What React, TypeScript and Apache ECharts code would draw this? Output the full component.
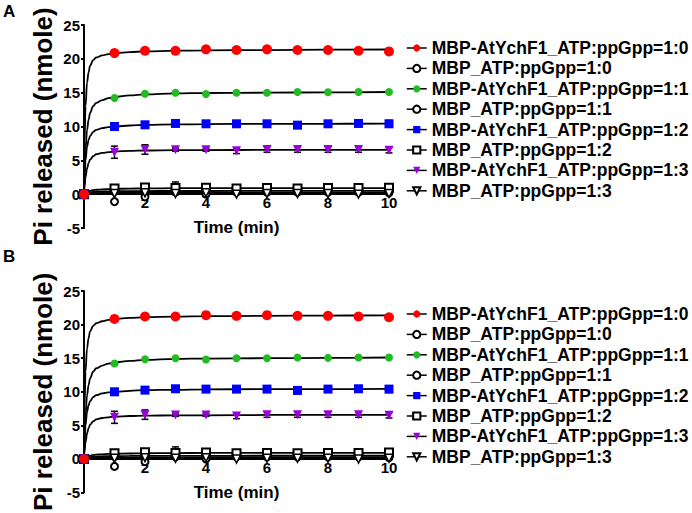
import React, { useEffect, useRef } from "react";
import * as echarts from "echarts";

// ---- Data ----
const timeMin = [0, 1, 2, 3, 4, 5, 6, 7, 8, 9, 10];
const ychf1_1_0 = [0, 20.85, 21.2, 21.2, 21.4, 21.3, 21.4, 21.3, 21.3, 21.2, 21.1];
const mbp_1_0 = [0, -1.1, -0.4, 0.3, 0.0, 0.3, 0.3, 0.3, 0.3, 0.3, 0.2];
const ychf1_1_1 = [0, 14.2, 14.85, 15.0, 14.8, 15.0, 15.0, 15.1, 15.05, 15.1, 15.1];
const mbp_1_1 = [0, 0.3, 0.5, 0.4, 0.5, 0.4, 0.5, 0.5, 0.4, 0.5, 0.5];
const ychf1_1_2 = [0, 10.0, 10.25, 10.45, 10.4, 10.4, 10.4, 10.2, 10.4, 10.45, 10.4];
const mbp_1_2 = [0, 0.85, 1.0, 0.9, 0.95, 0.85, 0.9, 0.85, 0.9, 0.9, 0.95];
const ychf1_1_3 = [0, 6.2, 6.6, 6.55, 6.55, 6.4, 6.6, 6.6, 6.6, 6.6, 6.5];
const mbp_1_3 = [0, 0.1, 0.2, 0.1, 0.2, 0.0, 0.1, 0.1, 0.1, 0.0, 0.1];

// error bars (± SD)
const ychf1_1_2_err = [0, 0, 0, 0, 0, 0, 0, 0, 0.4, 0.3, 0.5];
const ychf1_1_3_err = [0, 0.9, 0.7, 0.2, 0.2, 0.4, 0.4, 0.4, 0.4, 0.4, 0.4];
const mbp_1_2_err = [0, 0.3, 0.3, 0.9, 0.3, 0.3, 0.3, 0.3, 0.3, 0.3, 0.3];

// fitted curves
const fitTime = [0, 0.02, 0.05, 0.1, 0.15, 0.2, 0.3, 0.4, 0.6, 0.8, 1, 1.5, 2, 3, 4, 6, 8, 10];
const fit_ychf1_1_0 = [0, 8, 13, 16.5, 18.0, 19.0, 19.8, 20.2, 20.5, 20.7, 20.85, 21.0, 21.1, 21.2, 21.25, 21.3, 21.35, 21.38];
const fit_mbp_1_0 = [0, 0.02, 0.05, 0.08, 0.1, 0.12, 0.14, 0.15, 0.17, 0.18, 0.19, 0.2, 0.2, 0.21, 0.22, 0.22, 0.22, 0.22];
const fit_ychf1_1_1 = [0, 3, 6.5, 9.5, 11, 12, 13, 13.5, 13.9, 14.2, 14.35, 14.6, 14.75, 14.9, 14.95, 15.0, 15.05, 15.1];
const fit_mbp_1_1 = [0, 0.05, 0.1, 0.18, 0.24, 0.28, 0.33, 0.36, 0.4, 0.42, 0.43, 0.45, 0.46, 0.47, 0.47, 0.48, 0.48, 0.48];
const fit_ychf1_1_2 = [0, 2.5, 5, 7, 8, 8.6, 9.2, 9.5, 9.75, 9.9, 10.0, 10.15, 10.25, 10.3, 10.35, 10.4, 10.4, 10.42];
const fit_mbp_1_2 = [0, 0.1, 0.2, 0.35, 0.45, 0.5, 0.6, 0.65, 0.7, 0.75, 0.78, 0.82, 0.85, 0.88, 0.9, 0.9, 0.9, 0.9];
const fit_ychf1_1_3 = [0, 1.2, 2.5, 3.8, 4.6, 5.1, 5.6, 5.9, 6.1, 6.2, 6.3, 6.4, 6.45, 6.5, 6.5, 6.55, 6.55, 6.55];
const fit_mbp_1_3 = [0, 0.01, 0.02, 0.04, 0.05, 0.06, 0.07, 0.08, 0.09, 0.09, 0.1, 0.1, 0.1, 0.1, 0.1, 0.1, 0.1, 0.1];

const yTicks = { min: -5, max: 25, interval: 5 };
const xTicks = { min: 0, max: 10, interval: 2 };
const panelLabels = ["A", "B"];

const FONT = 'Arial, "Liberation Sans", Helvetica, sans-serif';
const TRI_DOWN = "path://M0,0 L10,0 L5,9 Z";

// kind: "fill" = filled coloured symbol, "empty" = ECharts empty symbol, "open" = white-filled path with black border
const conditions = [
  { name: "MBP-AtYchF1_ATP:ppGpp=1:0", data: ychf1_1_0, fit: fit_ychf1_1_0, color: "#ff0000", symbol: "circle", size: 10, kind: "fill", err: null as number[] | null, z: 8 },
  { name: "MBP_ATP:ppGpp=1:0", data: mbp_1_0, fit: fit_mbp_1_0, color: "#000000", symbol: "emptyCircle", size: 7, kind: "empty", err: null, z: 4 },
  { name: "MBP-AtYchF1_ATP:ppGpp=1:1", data: ychf1_1_1, fit: fit_ychf1_1_1, color: "#22bb22", symbol: "circle", size: 8, kind: "fill", err: null, z: 7 },
  { name: "MBP_ATP:ppGpp=1:1", data: mbp_1_1, fit: fit_mbp_1_1, color: "#000000", symbol: "emptyCircle", size: 6, kind: "empty", err: null, z: 4 },
  { name: "MBP-AtYchF1_ATP:ppGpp=1:2", data: ychf1_1_2, fit: fit_ychf1_1_2, color: "#0000ff", symbol: "rect", size: 9, kind: "fill", err: ychf1_1_2_err, z: 6 },
  { name: "MBP_ATP:ppGpp=1:2", data: mbp_1_2, fit: fit_mbp_1_2, color: "#000000", symbol: "emptyRect", size: 8, kind: "empty", err: mbp_1_2_err, z: 4 },
  { name: "MBP-AtYchF1_ATP:ppGpp=1:3", data: ychf1_1_3, fit: fit_ychf1_1_3, color: "#9900dd", symbol: TRI_DOWN, size: 9, kind: "fill", err: ychf1_1_3_err, z: 5 },
  { name: "MBP_ATP:ppGpp=1:3", data: mbp_1_3, fit: fit_mbp_1_3, color: "#000000", symbol: TRI_DOWN, size: 8, kind: "open", err: null, z: 4 },
];

const GRID_TOPS = [25, 291];
const GRID_H = 203;
// the time axis crosses the value axis at y = 0
const ZERO_OFFSET = -GRID_H * (0 - yTicks.min) / (yTicks.max - yTicks.min);

export default function App() {
  const ref = useRef<HTMLDivElement>(null);
  useEffect(() => {
    if (!ref.current) return;
    const chart = echarts.init(ref.current, null, { renderer: "svg" });

    const grids: any[] = [];
    const xAxes: any[] = [];
    const yAxes: any[] = [];
    const legends: any[] = [];
    const series: any[] = [];
    const graphics: any[] = [];

    GRID_TOPS.forEach((top, p) => {
      grids.push({ left: 84, top, width: 305, height: GRID_H, containLabel: false });
      xAxes.push({
        type: "value",
        gridIndex: p,
        position: "bottom",
        offset: ZERO_OFFSET,
        min: xTicks.min,
        max: xTicks.max,
        interval: xTicks.interval,
        name: "Time (min)",
        nameLocation: "middle",
        nameGap: 25,
        nameTextStyle: { fontFamily: FONT, fontWeight: "bold", fontSize: 17, color: "#000" },
        axisLine: { onZero: false, lineStyle: { color: "#000", width: 2 } },
        axisTick: { show: true, length: 3, lineStyle: { color: "#000", width: 2 } },
        axisLabel: {
          margin: 1,
          fontFamily: FONT,
          fontWeight: "bold",
          fontSize: 15,
          color: "#000",
          formatter: (v: number) => (v === 0 ? "" : String(v)),
        },
        splitLine: { show: false },
      });
      yAxes.push({
        type: "value",
        gridIndex: p,
        min: yTicks.min,
        max: yTicks.max,
        interval: yTicks.interval,
        name: "Pi released (nmole)",
        nameLocation: "middle",
        nameGap: 28,
        nameTextStyle: { fontFamily: FONT, fontWeight: "bold", fontSize: 26, color: "#000" },
        axisLine: { show: true, onZero: false, lineStyle: { color: "#000", width: 2 } },
        axisTick: { show: true, length: 3, lineStyle: { color: "#000", width: 2 } },
        axisLabel: { margin: 4, fontFamily: FONT, fontWeight: "bold", fontSize: 15, color: "#000" },
        splitLine: { show: false },
      });
      legends.push({
        orient: "vertical",
        left: 401,
        top: top + 9,
        itemWidth: 20,
        itemHeight: 9,
        itemGap: 2.4,
        data: conditions.map((c) => c.name),
        textStyle: { fontFamily: FONT, fontWeight: "bold", fontSize: 17.5, color: "#000" },
        lineStyle: { color: "#000", width: 1.5, opacity: 1, type: "solid" },
        selectedMode: false,
      });
      graphics.push({
        type: "text",
        left: 3,
        top: p === 0 ? 3 : 248,
        style: { text: panelLabels[p], fontFamily: FONT, fontWeight: "bold", fontSize: 17, fill: "#000" },
      });

      // fitted curves
      conditions.forEach((c) => {
        series.push({
          type: "line",
          name: c.name + " (fit)",
          xAxisIndex: p,
          yAxisIndex: p,
          data: fitTime.map((t, i) => [t, c.fit[i]]),
          smooth: 0.4,
          smoothMonotone: "x",
          showSymbol: false,
          symbol: "none",
          lineStyle: { color: "#000", width: 1.8 },
          z: 2,
          silent: true,
        });
      });
      // error bars
      conditions.forEach((c) => {
        if (!c.err) return;
        const errData = timeMin
          .map((t, i) => [t, c.data[i] - c.err![i], c.data[i] + c.err![i]])
          .filter((d, i) => c.err![i] > 0);
        series.push({
          type: "custom",
          name: c.name + " (err)",
          xAxisIndex: p,
          yAxisIndex: p,
          z: 3,
          silent: true,
          encode: { x: 0, y: [1, 2] },
          data: errData,
          renderItem: (params: any, api: any) => {
            const x = api.value(0);
            const lo = api.coord([x, api.value(1)]);
            const hi = api.coord([x, api.value(2)]);
            const w = 3.5;
            const st = { stroke: "#000", lineWidth: 1.5 };
            return {
              type: "group",
              children: [
                { type: "line", shape: { x1: hi[0], y1: hi[1], x2: lo[0], y2: lo[1] }, style: st },
                { type: "line", shape: { x1: hi[0] - w, y1: hi[1], x2: hi[0] + w, y2: hi[1] }, style: st },
                { type: "line", shape: { x1: lo[0] - w, y1: lo[1], x2: lo[0] + w, y2: lo[1] }, style: st },
              ],
            };
          },
        });
      });
      // data markers
      conditions.forEach((c) => {
        const itemStyle =
          c.kind === "empty"
            ? { color: "#000000", borderWidth: 1.5 }
            : c.kind === "open"
            ? { color: "#ffffff", borderColor: "#000000", borderWidth: 1.5 }
            : { color: c.color, borderColor: c.color, borderWidth: 0 };
        series.push({
          type: "line",
          name: c.name,
          xAxisIndex: p,
          yAxisIndex: p,
          data: timeMin.map((t, i) => [t, c.data[i]]),
          symbol: c.symbol,
          symbolSize: c.size,
          showSymbol: true,
          lineStyle: { opacity: 0, width: 0 },
          itemStyle,
          z: c.z,
        });
      });
    });

    chart.setOption({
      animation: false,
      backgroundColor: "#ffffff",
      grid: grids,
      xAxis: xAxes,
      yAxis: yAxes,
      legend: legends,
      graphic: graphics,
      series,
    });
    return () => chart.dispose();
  }, []);
  return (
    <div
      ref={ref}
      style={{ position: "fixed", left: 0, top: 0, width: 692, height: 513, background: "#fff" }}
    />
  );
}
